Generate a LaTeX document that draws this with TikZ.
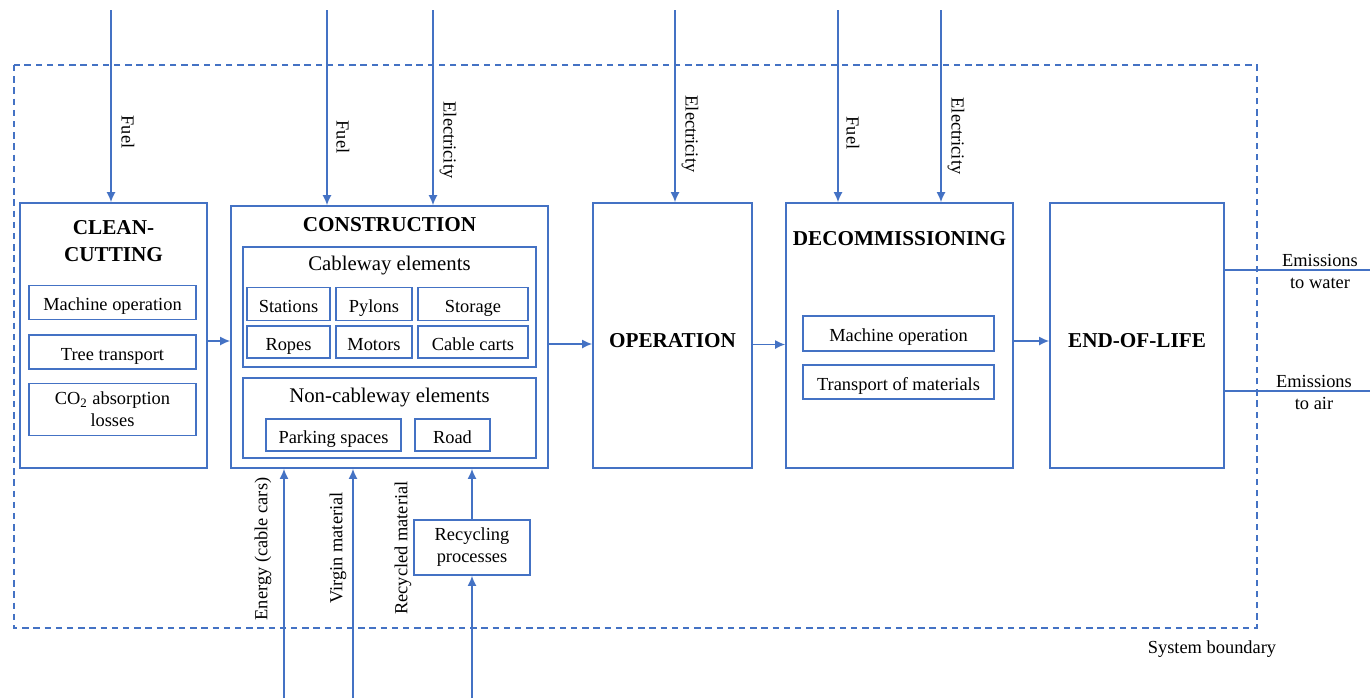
\documentclass[tikz,border=0pt]{standalone}
\usepackage{fontspec}
\setmainfont{Liberation Serif}
\usetikzlibrary{arrows.meta,positioning,calc}
\definecolor{lcablue}{HTML}{4472C4}

\tikzset{
  stage/.style={draw=lcablue, line width=0.8pt, rectangle, inner sep=0pt},
  item/.style={draw=lcablue, line width=0.8pt, rectangle, inner sep=0pt, align=center,
    font=\fontsize{9.2}{11}\selectfont},
  itemone/.style={item, text height=0.95em, text depth=0.13em},
  flow/.style={draw=lcablue, line width=0.8pt, -{Latex[length=5pt,width=4.5pt]}},
  emis/.style={draw=lcablue, line width=0.8pt},
  lbl/.style={font=\fontsize{9.2}{11}\selectfont, inner sep=0pt, align=center},
  ttl/.style={font=\fontsize{10.6}{13.5}\selectfont\bfseries, inner sep=0pt, align=center},
  subttl/.style={font=\fontsize{10.4}{12.5}\selectfont, inner sep=0pt},
}

\begin{document}
\begin{tikzpicture}[x=0.5pt,y=-0.5pt]

  \useasboundingbox (0,0) rectangle (1370,698);

  % ------- system boundary -------
  \draw[lcablue, line width=0.8pt, dash pattern=on 3.2pt off 2.4pt] (14,65) rectangle (1257,628);
  \node[lbl] (sysb) at (1212,649) {System boundary};

  %================= life-cycle stages =================

  % ---- clean-cutting ----
  \node[stage, minimum width=93.5pt, minimum height=132.5pt] (clean) at (113.5,335.5) {};
  \node[ttl] (cleanttl) at (113.5,241.5) {CLEAN-\\CUTTING};
  \node[itemone, minimum width=83.5pt, minimum height=17pt] (cleanmach) at (112.5,302.5) {Machine operation};
  \node[itemone, minimum width=83.5pt, minimum height=17pt] (cleantree) at (112.5,352) {Tree transport};
  \node[item, minimum width=83.5pt, minimum height=26pt] (cleanco) at (112.5,409.5) {CO\textsubscript{2} absorption\\losses};

  % ---- construction ----
  \node[stage, minimum width=158.5pt, minimum height=131pt] (constr) at (389.5,337) {};
  \node[ttl] (constrttl) at (389.5,225) {CONSTRUCTION};
  % cableway elements
  \node[stage, minimum width=146.5pt, minimum height=60pt] (cable) at (389.5,307) {};
  \node[subttl] (cablettl) at (389.5,266) {Cableway elements};
  \node[itemone, minimum width=41.5pt, minimum height=16.5pt] (stations) at (288.5,304) {Stations};
  \node[itemone, minimum width=38pt, minimum height=16.5pt] (pylons) at (374,304) {Pylons};
  \node[itemone, minimum width=55pt, minimum height=16.5pt] (storage) at (473,304) {Storage};
  \node[itemone, minimum width=41.5pt, minimum height=16pt] (ropes) at (288.5,342) {Ropes};
  \node[itemone, minimum width=38pt, minimum height=16pt] (motors) at (374,342) {Motors};
  \node[itemone, minimum width=55pt, minimum height=16pt] (carts) at (473,342) {Cable carts};
  % non-cableway elements
  \node[stage, minimum width=146.5pt, minimum height=40pt] (noncable) at (389.5,418) {};
  \node[subttl] (noncablettl) at (389.5,398) {Non-cableway elements};
  \node[itemone, minimum width=67.5pt, minimum height=16pt] (parking) at (333.5,435) {Parking spaces};
  \node[itemone, minimum width=37.5pt, minimum height=16pt] (road) at (452.5,435) {Road};

  % ---- operation ----
  \node[stage, minimum width=79.5pt, minimum height=132.5pt] (oper) at (672.5,335.5) {};
  \node[ttl] (operttl) at (672.5,341) {OPERATION};

  % ---- decommissioning ----
  \node[stage, minimum width=113.5pt, minimum height=132.5pt] (decom) at (899.5,335.5) {};
  \node[ttl] (decomttl) at (899.5,239) {DECOMMISSIONING};
  \node[itemone, minimum width=95.5pt, minimum height=17.5pt] (decmach) at (898.5,333.5) {Machine operation};
  \node[itemone, minimum width=95.5pt, minimum height=17pt] (dectrans) at (898.5,382) {Transport of materials};

  % ---- end-of-life ----
  \node[stage, minimum width=87pt, minimum height=132.5pt] (eol) at (1137,335.5) {};
  \node[ttl] (eolttl) at (1137,341) {END-OF-LIFE};

  % ---- recycling ----
  \node[item, minimum width=58pt, minimum height=27.5pt] (recyc) at (472,547.5) {Recycling\\processes};

  %================= flows between stages =================
  \draw[flow] ([yshift=-2.75pt]clean.east) -- ([yshift=-2pt]constr.west);
  \draw[flow] ([yshift=-3.5pt]constr.east) -- ([yshift=-4.25pt]oper.west);
  \draw[flow] ([yshift=-4.5pt]oper.east) -- ([yshift=-4.5pt]decom.west);
  \draw[flow] ([yshift=-2.75pt]decom.east) -- ([yshift=-2.75pt]eol.west);

  %================= inputs from above =================
  \coordinate (inA) at (111,10);
  \coordinate (inB) at (327,10);
  \coordinate (inC) at (433,10);
  \coordinate (inD) at (675,10);
  \coordinate (inE) at (838,10);
  \coordinate (inF) at (941,10);
  \draw[flow] (inA) -- (inA |- clean.north);
  \draw[flow] (inB) -- (inB |- constr.north);
  \draw[flow] (inC) -- (inC |- constr.north);
  \draw[flow] (inD) -- (inD |- oper.north);
  \draw[flow] (inE) -- (inE |- decom.north);
  \draw[flow] (inF) -- (inF |- decom.north);
  \node[lbl, rotate=-90] (inAlbl) at (128,132) {Fuel};
  \node[lbl, rotate=-90] (inBlbl) at (343,137) {Fuel};
  \node[lbl, rotate=-90] (inClbl) at (448,140) {Electricity};
  \node[lbl, rotate=-90] (inDlbl) at (690,134) {Electricity};
  \node[lbl, rotate=-90] (inElbl) at (853,133) {Fuel};
  \node[lbl, rotate=-90] (inFlbl) at (956,136) {Electricity};

  %================= inputs from below =================
  \coordinate (outA) at (284,698);
  \coordinate (outB) at (353,698);
  \coordinate (outC) at (472,698);
  \draw[flow] (outA) -- (outA |- constr.south);
  \draw[flow] (outB) -- (outB |- constr.south);
  \draw[flow] (outC) -- (recyc.south);
  \draw[flow] (recyc.north) -- (recyc.north |- constr.south);
  \node[lbl, rotate=90] (outAlbl) at (263,549) {Energy (cable cars)};
  \node[lbl, rotate=90] (outBlbl) at (338,548) {Virgin material};
  \node[lbl, rotate=90] (outClbl) at (403,548) {Recycled material};

  %================= emissions =================
  \coordinate (emW) at (1370,270);
  \coordinate (emA) at (1370,391);
  \draw[emis] (eol.east |- emW) -- (emW);
  \draw[emis] (eol.east |- emA) -- (emA);
  \node[lbl] (emWlbl) at (1320,271) {Emissions\\to water};
  \node[lbl] (emAlbl) at (1314,392) {Emissions\\to air};

\end{tikzpicture}
\end{document}
